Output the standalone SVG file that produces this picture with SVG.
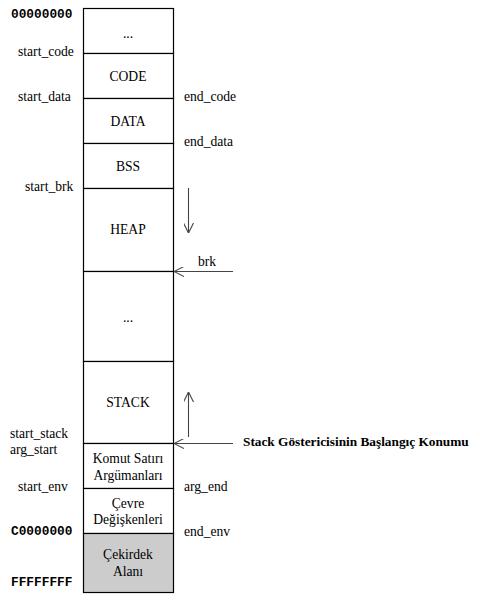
<svg xmlns="http://www.w3.org/2000/svg" width="480" height="604" viewBox="0 0 480 604">
<style>
text{font-family:"Liberation Serif","Times New Roman",serif;font-size:13.6px;fill:#000}
.c{text-anchor:middle}
.m{font-family:"Liberation Mono","Courier New",monospace;font-size:12.8px;font-weight:bold}
.b{font-weight:bold;font-size:13.3px}
.box{fill:#fff;stroke:#000;stroke-width:1.2}
.k{fill:#cccccc;stroke:#000;stroke-width:1.2}
.a{stroke:#444;stroke-width:1.1;fill:none}
</style>
<defs>
<marker id="h" viewBox="0 0 10 10" refX="10" refY="5" markerWidth="10" markerHeight="10" markerUnits="userSpaceOnUse" orient="auto">
<path d="M0,0 L10,5 L0,10" fill="none" stroke="#444" stroke-width="1.1"/>
</marker>
</defs>
<g id="seg-top"><rect class="box" x="83.5" y="8.5" width="90" height="45"/><text class="c" x="128" y="38">...</text></g>
<g id="seg-code"><rect class="box" x="83.5" y="53.5" width="90" height="45"/><text class="c" x="128" y="81">CODE</text></g>
<g id="seg-data"><rect class="box" x="83.5" y="98.5" width="90" height="45"/><text class="c" x="128" y="126">DATA</text></g>
<g id="seg-bss"><rect class="box" x="83.5" y="143.5" width="90" height="45"/><text class="c" x="128" y="171">BSS</text></g>
<g id="seg-heap"><rect class="box" x="83.5" y="188.5" width="90" height="83"/><text class="c" x="128" y="234">HEAP</text></g>
<g id="seg-gap"><rect class="box" x="83.5" y="271.5" width="90" height="90"/><text class="c" x="128" y="322">...</text></g>
<g id="seg-stack"><rect class="box" x="83.5" y="361.5" width="90" height="82"/><text class="c" x="128" y="407">STACK</text></g>
<g id="seg-args"><rect class="box" x="83.5" y="443.5" width="90" height="45"/><text class="c" x="128" y="463">Komut Satırı</text><text class="c" x="128" y="480">Argümanları</text></g>
<g id="seg-env"><rect class="box" x="83.5" y="488.5" width="90" height="45"/><text class="c" x="128" y="508">Çevre</text><text class="c" x="128" y="524">Değişkenleri</text></g>
<g id="seg-kernel"><rect class="k" x="83.5" y="533.5" width="90" height="59"/><text class="c" x="128" y="559">Çekirdek</text><text class="c" x="128" y="576">Alanı</text></g>
<g id="labels-left">
<text class="m" x="11" y="18">00000000</text>
<text x="18" y="56">start_code</text>
<text x="18" y="101">start_data</text>
<text x="25" y="191">start_brk</text>
<text x="10" y="438">start_stack</text>
<text x="10" y="454">arg_start</text>
<text x="18" y="491">start_env</text>
<text class="m" x="11" y="535">C0000000</text>
<text class="m" x="11" y="586">FFFFFFFF</text>
</g>
<g id="labels-right">
<text x="184" y="101">end_code</text>
<text x="184" y="146">end_data</text>
<text x="198" y="266">brk</text>
<text x="184" y="491">arg_end</text>
<text x="184" y="536">end_env</text>
<text class="b" x="243" y="446">Stack Göstericisinin Başlangıç Konumu</text>
</g>
<g id="connectors">
<line class="a" x1="188.5" y1="188" x2="188.5" y2="233" marker-end="url(#h)"/>
<line class="a" x1="233" y1="271.5" x2="174" y2="271.5" marker-end="url(#h)"/>
<line class="a" x1="188.5" y1="437" x2="188.5" y2="392" marker-end="url(#h)"/>
<line class="a" x1="233" y1="443.5" x2="174" y2="443.5" marker-end="url(#h)"/>
</g>
</svg>
